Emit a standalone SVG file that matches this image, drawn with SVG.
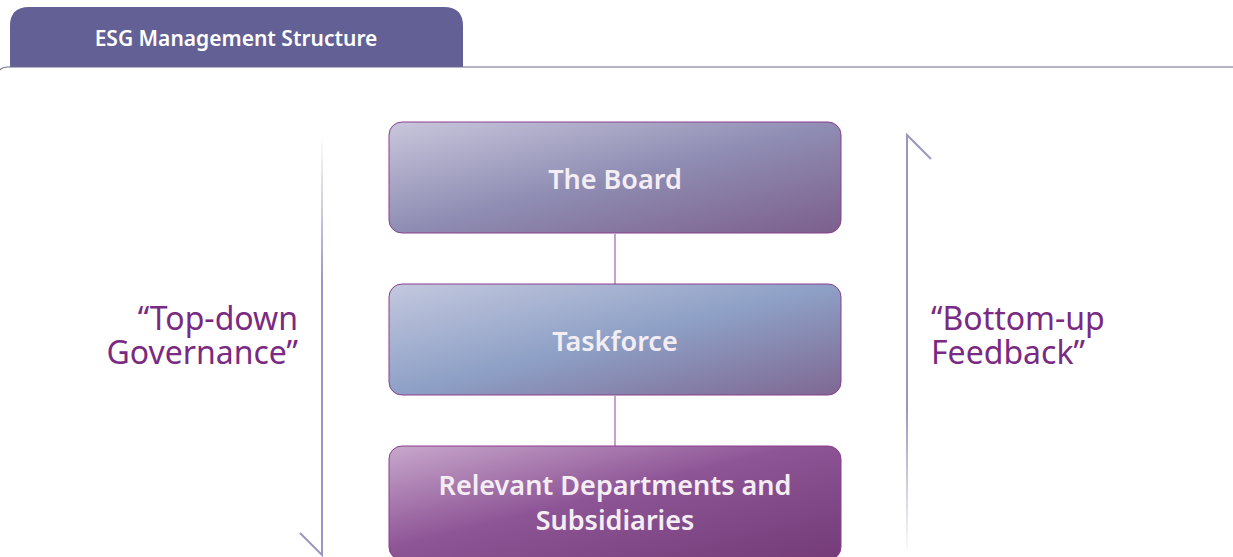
<svg xmlns="http://www.w3.org/2000/svg" width="1233" height="557" viewBox="0 0 1233 557">
  <defs>
    <linearGradient id="gBoard" x1="0" y1="0" x2="1" y2="1" gradientUnits="objectBoundingBox">
      <stop offset="0" stop-color="#c9c6dc"/>
      <stop offset="0.5" stop-color="#8f8db3"/>
      <stop offset="1" stop-color="#7c5f8c"/>
    </linearGradient>
    <linearGradient id="gTask" x1="0" y1="0" x2="1" y2="1" gradientUnits="objectBoundingBox">
      <stop offset="0" stop-color="#c3c8de"/>
      <stop offset="0.5" stop-color="#8ea0c6"/>
      <stop offset="1" stop-color="#7e6892"/>
    </linearGradient>
    <linearGradient id="gDept" x1="0" y1="0" x2="1" y2="1" gradientUnits="objectBoundingBox">
      <stop offset="0" stop-color="#c8a8cc"/>
      <stop offset="0.45" stop-color="#8e5596"/>
      <stop offset="1" stop-color="#743b78"/>
    </linearGradient>
    <linearGradient id="gDown" x1="0" y1="135" x2="0" y2="556" gradientUnits="userSpaceOnUse">
      <stop offset="0" stop-color="#9a97c0" stop-opacity="0"/>
      <stop offset="0.35" stop-color="#9a97c0"/>
      <stop offset="1" stop-color="#9a97c0"/>
    </linearGradient>
    <linearGradient id="gUp" x1="0" y1="135" x2="0" y2="556" gradientUnits="userSpaceOnUse">
      <stop offset="0" stop-color="#9a97c0"/>
      <stop offset="0.65" stop-color="#9a97c0"/>
      <stop offset="1" stop-color="#9a97c0" stop-opacity="0"/>
    </linearGradient>
    <style>
      .box { stroke: #8a3f8e; stroke-width: 1; }
      .boxText { font-family: "Noto Sans", "Open Sans", sans-serif; font-weight: 600; font-size: 27px; fill: #f4eef4; text-anchor: middle; }
      .side { font-family: "Noto Sans", "Open Sans", sans-serif; font-weight: 400; font-size: 32px; fill: #7a2a82; }
      .link { stroke: #b582b8; stroke-width: 1.5; fill: none; }
    </style>
  </defs>

  <rect width="1233" height="557" fill="#ffffff"/>

  <!-- header tab and rule -->
  <g id="header">
    <path d="M10,67 L10,26 Q10,7 29,7 L444,7 Q463,7 463,26 L463,67 Z" fill="#626094"/>
    <path d="M0,70 Q2,67 8,67 L1233,67" stroke="#6d6b8f" stroke-width="1.2" fill="none"/>
    <text x="236" y="46" font-family="'Noto Sans', 'Open Sans', sans-serif" font-weight="600" font-size="21" fill="#ffffff" text-anchor="middle">ESG Management Structure</text>
  </g>

  <!-- connectors -->
  <g id="connectors">
    <line class="link" x1="615" y1="234" x2="615" y2="284"/>
    <line class="link" x1="615" y1="396" x2="615" y2="446"/>
    <path d="M322,135 L322,555 L300,533" stroke="url(#gDown)" stroke-width="2" fill="none"/>
    <path d="M907,556 L907,135 L931,159" stroke="url(#gUp)" stroke-width="2" fill="none"/>
  </g>

  <g id="node-board">
    <rect class="box" x="389" y="122" width="452" height="111" rx="13" fill="url(#gBoard)"/>
    <text class="boxText" x="615" y="189">The Board</text>
  </g>

  <g id="node-taskforce">
    <rect class="box" x="389" y="284" width="452" height="111" rx="13" fill="url(#gTask)"/>
    <text class="boxText" x="615" y="351">Taskforce</text>
  </g>

  <g id="node-departments">
    <rect class="box" x="389" y="446" width="452" height="114" rx="13" fill="url(#gDept)"/>
    <text class="boxText" x="615" y="495">Relevant Departments and</text>
    <text class="boxText" x="615" y="530">Subsidiaries</text>
  </g>

  <g id="label-topdown">
    <text class="side" text-anchor="end"><tspan x="298" y="330">“Top-down</tspan><tspan x="298" y="364">Governance”</tspan></text>
  </g>

  <g id="label-bottomup">
    <text class="side"><tspan x="931" y="330">“Bottom-up</tspan><tspan x="931" y="364">Feedback”</tspan></text>
  </g>
</svg>
